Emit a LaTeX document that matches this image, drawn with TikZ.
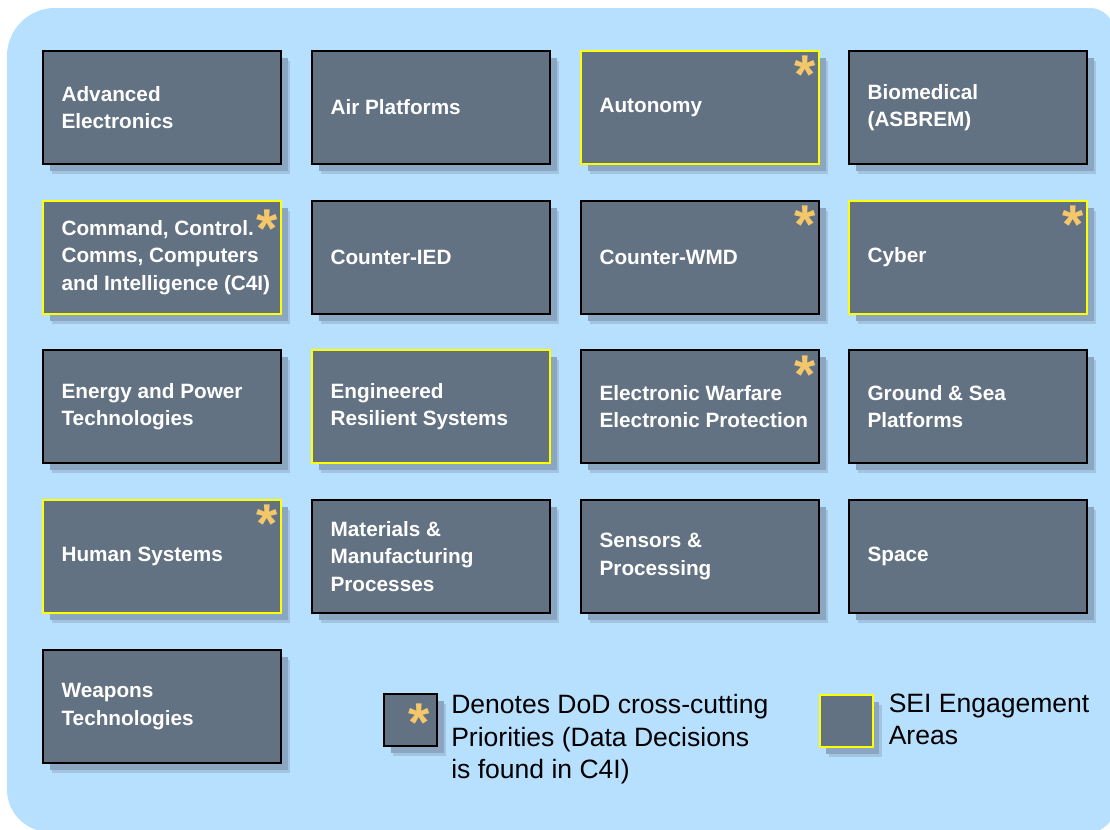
\documentclass[tikz,border=0pt]{standalone}
\usepackage{fontspec}
\setmainfont{Liberation Sans}
\usetikzlibrary{shadows}

\definecolor{bgblue}{RGB}{183,223,254}
\definecolor{boxgray}{RGB}{99,114,130}
\definecolor{shadowblue}{RGB}{138,166,192}
\definecolor{shadowfringe}{RGB}{158,190,218}
\definecolor{seiyellow}{RGB}{255,255,0}
\definecolor{stargold}{RGB}{245,199,107}

\tikzset{
  area/.style={draw=black, fill=boxgray, line width=1.5pt, minimum width=178.5pt, minimum height=84.75pt, inner sep=0pt,
    drop shadow={shadow xshift=7pt, shadow yshift=-7.5pt, fill=shadowfringe, opacity=0.8},
    drop shadow={shadow xshift=5pt, shadow yshift=-5.5pt, fill=shadowblue, opacity=1}},
  sei/.style={area, draw=seiyellow},
  lbl/.style={anchor=west, xshift=14.5pt, align=left, text=white, inner sep=0pt,
    font=\bfseries\fontsize{15.55pt}{20.6pt}\selectfont},
  prio/.style={anchor=north, inner sep=0pt, text=stargold, font=\bfseries\fontsize{41pt}{41pt}\selectfont},
  keybox/.style={area, minimum width=39.75pt, minimum height=39pt},
  keytext/.style={anchor=north west, align=left, inner sep=0pt, font=\fontsize{19.9pt}{24.4pt}\selectfont}
}

\begin{document}
\begin{tikzpicture}[x=0.75pt,y=-0.75pt]
\useasboundingbox (0,0) rectangle (1110,829);
% background panel
\fill[bgblue] (1114,400) [rounded corners=18pt] -- (1114,8) [rounded corners=36pt] -- (7,8) [rounded corners=32pt] -- (7,832) [rounded corners=18pt] -- (1114,832) -- cycle;

% row 1
\node[area] (adv) at (162,107.5) {};
\node[lbl] (adv-t) at (adv.west) {Advanced\\Electronics};
\node[area] (air) at (431,107.5) {};
\node[lbl] (air-t) at (air.west) {Air Platforms};
\node[sei] (auto) at (700,107.5) {};
\node[lbl] (auto-t) at (auto.west) {Autonomy};
\node[prio] (auto-s) at ([xshift=-11.25pt,yshift=-4.5pt]auto.north east) {*};
\node[area] (bio) at (968,107.5) {};
\node[lbl] (bio-t) at (bio.west) {Biomedical\\(ASBREM)};

% row 2
\node[sei] (cmd) at (162,257.5) {};
\node[lbl] (cmd-t) at (cmd.west) {Command, Control.\\Comms, Computers\\and Intelligence (C4I)};
\node[prio] (cmd-s) at ([xshift=-11.25pt,yshift=-7pt]cmd.north east) {*};
\node[area] (cied) at (431,257.5) {};
\node[lbl] (cied-t) at (cied.west) {Counter-IED};
\node[area] (cwmd) at (700,257.5) {};
\node[lbl] (cwmd-t) at (cwmd.west) {Counter-WMD};
\node[prio] (cwmd-s) at ([xshift=-11.25pt,yshift=-4.5pt]cwmd.north east) {*};
\node[sei] (cyber) at (968,257.5) {};
\node[lbl] (cyber-t) at (cyber.west) {Cyber};
\node[prio] (cyber-s) at ([xshift=-11.25pt,yshift=-4.5pt]cyber.north east) {*};

% row 3
\node[area] (energy) at (162,406.5) {};
\node[lbl] (energy-t) at (energy.west) {Energy and Power\\Technologies};
\node[sei] (ers) at (431,406.5) {};
\node[lbl] (ers-t) at (ers.west) {Engineered\\Resilient Systems};
\node[area] (ew) at (700,406.5) {};
\node[lbl] (ew-t) at (ew.west) {Electronic Warfare\\Electronic Protection};
\node[prio] (ew-s) at ([xshift=-11.25pt,yshift=-5pt]ew.north east) {*};
\node[area] (ground) at (968,406.5) {};
\node[lbl] (ground-t) at (ground.west) {Ground \& Sea\\Platforms};

% row 4
\node[sei] (human) at (162,556.5) {};
\node[lbl] (human-t) at (human.west) {Human Systems};
\node[prio] (human-s) at ([xshift=-11.25pt,yshift=-4.5pt]human.north east) {*};
\node[area] (mat) at (431,556.5) {};
\node[lbl] (mat-t) at (mat.west) {Materials \&\\Manufacturing\\Processes};
\node[area] (sens) at (700,556.5) {};
\node[lbl] (sens-t) at (sens.west) {Sensors \&\\Processing};
\node[area] (space) at (968,556.5) {};
\node[lbl] (space-t) at (space.west) {Space};

% row 5
\node[area] (weap) at (162,706.5) {};
\node[lbl] (weap-t) at (weap.west) {Weapons\\Technologies};

% legend
\node[keybox] (keyprio) at (410.5,720) {};
\node[prio] (keyprio-s) at ([xshift=-14.5pt,yshift=-8pt]keyprio.north east) {*};
\node[keytext] (keyprio-t) at ([xshift=9.75pt,yshift=-0.75pt]keyprio.north east) {Denotes DoD cross-cutting\\Priorities (Data Decisions\\is found in C4I)};
\node[keybox, draw=seiyellow] (keysei) at (846,720.5) {};
\node[keytext] (keysei-t) at ([xshift=11.25pt]keysei.north east) {SEI Engagement\\Areas};
\end{tikzpicture}
\end{document}
